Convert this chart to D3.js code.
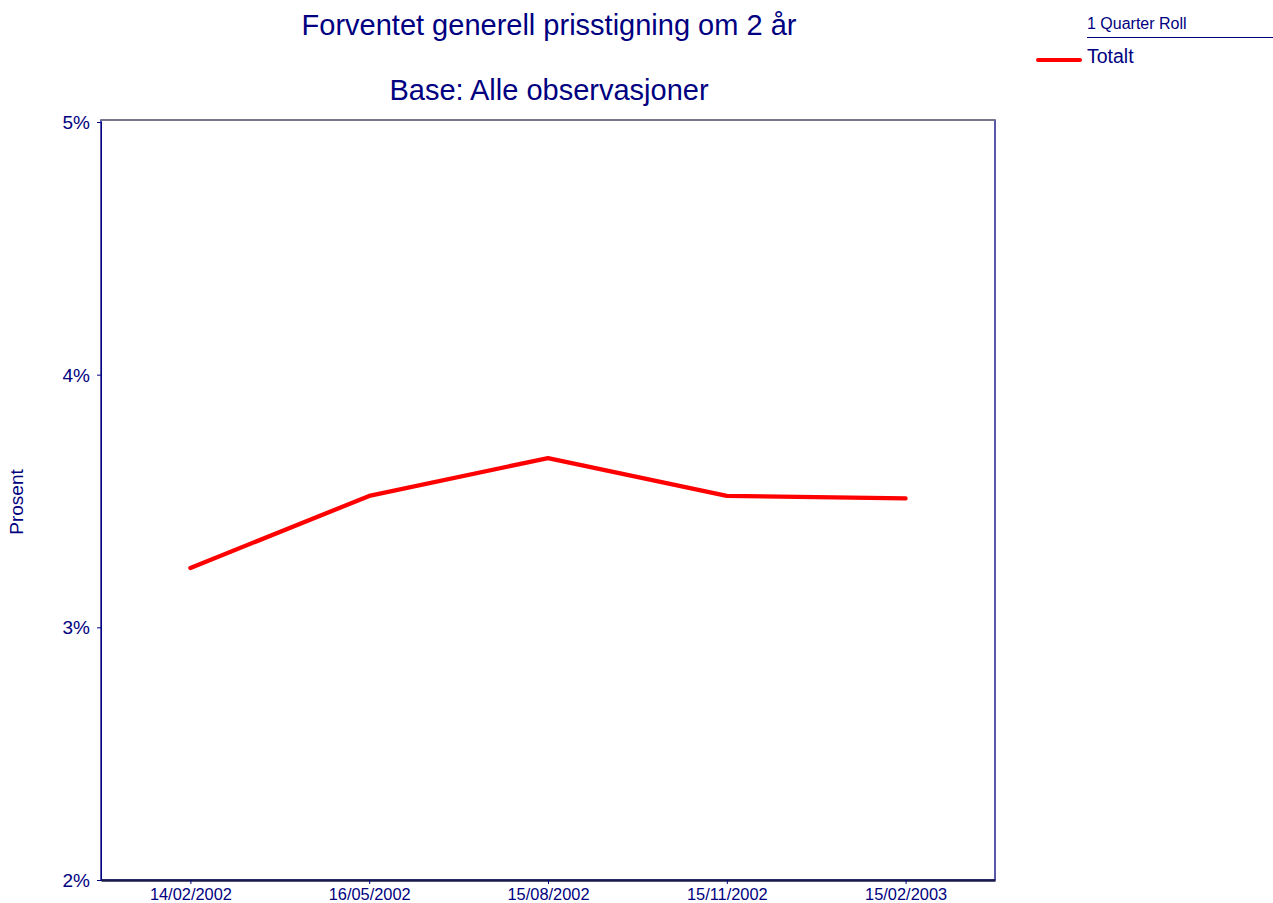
<!DOCTYPE html>
<html><head><meta charset="utf-8">
<script src="https://cdn.jsdelivr.net/npm/d3@7"></script>
<style>body{margin:0;background:#fff}svg{display:block;font-family:"Liberation Sans",Arial,sans-serif}</style>
</head><body><svg id="c" width="1273" height="903"></svg>
<script>
const categories = ["14/02/2002","16/05/2002","15/08/2002","15/11/2002","15/02/2003"];
const totalt = [3.235, 3.52, 3.67, 3.52, 3.51];
const yTicks = [2, 3, 4, 5];
const titleLines = ["Forventet generell prisstigning om 2 år", "Base: Alle observasjoner"];
const legendTitle = "1 Quarter Roll";
const seriesName = "Totalt";

const navy = "#000080";
const svg = d3.select("#c");
const L = 101, R = 995, T = 122, B = 880;
const x = d3.scalePoint().domain(categories).range([L, R]).padding(0.5);
const y = d3.scaleLinear().domain([2, 5]).range([B, T]);

svg.append("rect").attr("x", L).attr("y", T - 2).attr("width", R - L).attr("height", B - T + 2)
  .attr("fill", "none").attr("stroke", navy).attr("stroke-width", 1.3);
svg.append("line").attr("x1", L).attr("x2", R).attr("y1", T - 2).attr("y2", T - 2).attr("stroke", "#808080").attr("stroke-width", 1.3);

const ya = svg.append("g").attr("transform", `translate(${L},0)`)
  .call(d3.axisLeft(y).tickValues(yTicks).tickFormat(d => d + "%").tickSize(4));
ya.select(".domain").attr("stroke", navy);
ya.selectAll("line").attr("stroke", navy);
ya.selectAll("text").attr("fill", navy).attr("font-size", 19).attr("font-family", "Liberation Sans, Arial").attr("x", -11).attr("dy", "0.35em");

const xa = svg.append("g").attr("transform", `translate(0,${B})`)
  .call(d3.axisBottom(x).tickSize(4).tickSizeOuter(0));
xa.select(".domain").attr("stroke", "#1a1a4a").attr("stroke-width", 2.5);
xa.selectAll("line").attr("stroke", navy);
xa.selectAll("text").attr("fill", navy).attr("font-size", 16.4).attr("font-family", "Liberation Sans, Arial").attr("y", 20).attr("dy", 0);

svg.append("path").datum(totalt)
  .attr("d", d3.line().x((d, i) => x(categories[i])).y(d => y(d)))
  .attr("fill", "none").attr("stroke", "#ff0000").attr("stroke-width", 4.3).attr("stroke-linecap", "round").attr("stroke-linejoin", "round");

svg.selectAll(".title").data(titleLines).join("text")
  .attr("x", 549).attr("y", (d, i) => 35 + i * 65).attr("text-anchor", "middle")
  .attr("fill", navy).attr("font-size", 29).text(d => d);

svg.append("text").attr("transform", "translate(23,502) rotate(-90)").attr("text-anchor", "middle")
  .attr("fill", navy).attr("font-size", 19).text("Prosent");

svg.append("text").attr("x", 1087).attr("y", 29).attr("fill", navy).attr("font-size", 16).text(legendTitle);
svg.append("line").attr("x1", 1087).attr("x2", 1273).attr("y1", 37.5).attr("y2", 37.5).attr("stroke", navy).attr("stroke-width", 1.2);
svg.append("line").attr("x1", 1038).attr("x2", 1080).attr("y1", 60).attr("y2", 60).attr("stroke", "#ff0000").attr("stroke-width", 4).attr("stroke-linecap", "round");
svg.append("text").attr("x", 1087).attr("y", 63).attr("fill", navy).attr("font-size", 19.5).text(seriesName);
</script></body></html>
